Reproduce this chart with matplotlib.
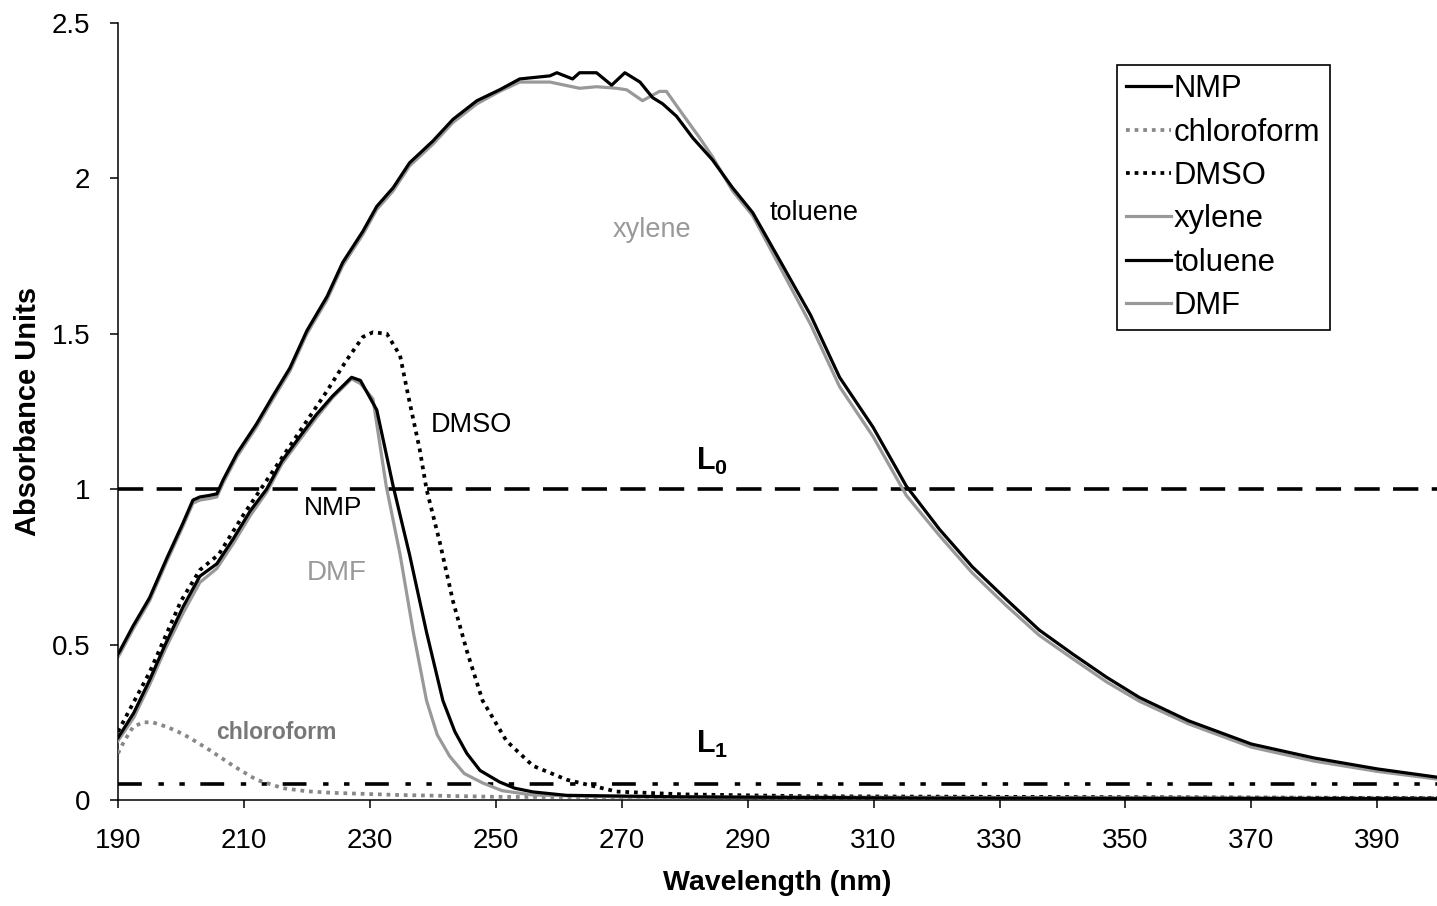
import matplotlib
matplotlib.use("Agg")
import matplotlib.pyplot as plt

plt.rcParams['font.family'] = ['Liberation Sans', 'DejaVu Sans']
plt.rcParams['mathtext.fontset'] = 'custom'
plt.rcParams['mathtext.rm'] = 'Liberation Sans'
plt.rcParams['mathtext.bf'] = 'Liberation Sans:bold'

# toluene / xylene (upper pair)
tol_x = [190, 190.3, 192.4, 195, 197.8, 200.3, 201.9, 203, 204.5, 205.7, 206.7,
         208.9, 212, 214.6, 217.3, 220, 223.2, 225.7, 228.9, 231.1, 233.7,
         236.3, 240, 243.2, 247, 250.6, 253.8, 258.6, 259.7, 262.2, 263.3, 266,
         268.4, 270.5, 272.9, 274.9, 276.5, 278.7, 281.3, 284.4, 287.6, 290.8,
         295, 300, 304.6, 309.9, 315.2, 320.5, 325.7, 331.1, 336.3, 341.6, 347,
         352.2, 360, 370, 380, 390, 400]
tol_y = [0.47, 0.48, 0.56, 0.65, 0.78, 0.89, 0.965, 0.975, 0.98, 0.985, 1.03,
         1.115, 1.21, 1.30, 1.39, 1.51, 1.62, 1.73, 1.83, 1.91, 1.97,
         2.05, 2.12, 2.19, 2.25, 2.285, 2.32, 2.33, 2.34, 2.32, 2.34, 2.34,
         2.30, 2.34, 2.31, 2.26, 2.24, 2.20, 2.13, 2.06, 1.97, 1.89,
         1.74, 1.56, 1.36, 1.20, 1.01, 0.87, 0.75, 0.645, 0.547, 0.47, 0.395,
         0.33, 0.255, 0.18, 0.135, 0.10, 0.072]

xyl_x = [190, 190.3, 192.4, 195, 197.8, 200.3, 201.9, 203, 204.5, 205.7, 206.7,
         208.9, 212, 214.6, 217.3, 220, 223.2, 225.7, 228.9, 231.1, 233.7,
         236.3, 240, 243.2, 247, 250.6, 253.8, 258.6, 263.3, 266, 269.2, 270.8,
         273.3, 276, 277.1, 279.2, 282.4, 284.4, 287.6, 290.8, 295, 300, 304.6,
         309.9, 315.2, 320.5, 325.7, 331.1, 336.3, 341.6, 347, 352.2, 360, 370,
         380, 390, 400]
xyl_y = [0.46, 0.47, 0.55, 0.64, 0.77, 0.88, 0.955, 0.965, 0.97, 0.975, 1.02,
         1.105, 1.20, 1.29, 1.38, 1.50, 1.61, 1.72, 1.82, 1.90, 1.96,
         2.04, 2.11, 2.18, 2.24, 2.28, 2.31, 2.31, 2.29, 2.295, 2.29, 2.285,
         2.25, 2.28, 2.28, 2.22, 2.13, 2.07, 1.96, 1.88, 1.72, 1.53, 1.33,
         1.17, 0.98, 0.85, 0.73, 0.625, 0.53, 0.455, 0.38, 0.318, 0.245, 0.17,
         0.125, 0.092, 0.066]

nmp_x = [190, 192.5, 195, 197.5, 200.3, 203, 205.7, 208.3, 211, 213.6, 216,
         218.9, 221.5, 224.1, 227.1, 228.5, 231.1, 233.7, 236.3, 239, 241.6,
         243.5, 245.4, 247.5, 250.6, 253, 255.9, 261.2, 280, 320, 400]
nmp_y = [0.20, 0.28, 0.385, 0.50, 0.62, 0.72, 0.76, 0.84, 0.93, 1.00, 1.09,
         1.17, 1.24, 1.30, 1.36, 1.35, 1.255, 1.01, 0.79, 0.54, 0.32,
         0.22, 0.15, 0.095, 0.058, 0.038, 0.026, 0.015, 0.01, 0.006, 0.004]

dmf_x = [190, 192.5, 195, 197.5, 200.3, 203, 205.7, 208.3, 211, 213.6, 216,
         218.9, 221.5, 224.1, 227.1, 228.5, 230.5, 232.6, 234.8, 236.9, 239,
         240.7, 242.7, 245, 247.9, 251, 255.9, 270, 400]
dmf_y = [0.19, 0.265, 0.37, 0.485, 0.60, 0.70, 0.745, 0.825, 0.915, 0.99, 1.08,
         1.16, 1.23, 1.295, 1.355, 1.34, 1.29, 1.01, 0.79, 0.54, 0.32,
         0.21, 0.14, 0.085, 0.055, 0.03, 0.016, 0.01, 0.005]

dmso_x = [190, 195, 200, 203, 206, 210, 215, 220, 223, 226.3, 228.9, 230.5,
          232.7, 234.8, 236, 237.9, 239, 241.1, 243.2, 245.4, 247.9, 251.7,
          255.9, 261.3, 269.2, 280, 300, 400]
dmso_y = [0.22, 0.41, 0.64, 0.74, 0.79, 0.92, 1.07, 1.22, 1.31, 1.415, 1.49, 1.505,
          1.50, 1.43, 1.31, 1.13, 1.0, 0.83, 0.64, 0.48, 0.32, 0.19,
          0.11, 0.065, 0.027, 0.018, 0.012, 0.006]

chl_x = [190, 191, 192.4, 194, 195.5, 197.8, 199.5, 201.4, 204.6, 208.3, 212,
         216.2, 220, 224.1, 234.8, 250.6, 300, 400]
chl_y = [0.15, 0.19, 0.235, 0.25, 0.25, 0.235, 0.22, 0.20, 0.16, 0.11, 0.065,
         0.038, 0.028, 0.023, 0.016, 0.01, 0.008, 0.007]

L0 = 1.0
L1 = 0.05

black = '#000000'
gray = '#999999'

fig = plt.figure(figsize=(14.37, 9.06), dpi=100)
ax = fig.add_axes([0.0821, 0.117, 0.918, 0.8576])

ax.plot(nmp_x, nmp_y, color=black, lw=2.3, label='NMP', zorder=4)
ax.plot(chl_x, chl_y, color='#888888', lw=2.7, ls=(0, (1, 1.3)),
        label='chloroform', zorder=3)
ax.plot(dmso_x, dmso_y, color=black, lw=2.7, ls=(0, (1, 1.3)),
        label='DMSO', zorder=3)
ax.plot(xyl_x, xyl_y, color=gray, lw=2.3, label='xylene', zorder=2)
ax.plot(tol_x, tol_y, color=black, lw=2.3, label='toluene', zorder=3)
ax.plot(dmf_x, dmf_y, color=gray, lw=2.3, label='DMF', zorder=3)

ax.axhline(L0, color=black, lw=2.6, ls=(0, (7, 3.7)), zorder=1)
ax.axhline(L1, color=black, lw=2.6, ls=(0, (6.6, 4.6, 1.5, 4.3, 1.5, 4.3)),
           zorder=1)

ax.set_xlim(190, 399.5)
ax.set_ylim(0, 2.5)
ax.set_xticks(range(190, 400, 20))
ax.set_yticks([0, 0.5, 1, 1.5, 2, 2.5])
ax.set_yticklabels(['0', '0.5', '1', '1.5', '2', '2.5'])
ax.spines['top'].set_visible(False)
ax.spines['right'].set_visible(False)
for s in ['left', 'bottom']:
    ax.spines[s].set_linewidth(1.1)
ax.tick_params(direction='out', length=6, width=1.1, labelsize=20)
ax.tick_params(axis='x', pad=14)
ax.tick_params(axis='y', pad=14)

ax.set_xlabel('Wavelength (nm)', fontsize=20.5, fontweight='bold', labelpad=12)
ax.set_ylabel('Absorbance Units', fontsize=21, fontweight='bold', labelpad=7)

ax.text(274.8, 1.834, 'xylene', color=gray, fontsize=19.5, ha='center', va='center')
ax.text(300.5, 1.89, 'toluene', color=black, fontsize=19.5, ha='center', va='center')
ax.text(246.2, 1.207, 'DMSO', color=black, fontsize=19.5, ha='center', va='center')
ax.text(224.1, 0.94, 'NMP', color=black, fontsize=19, ha='center', va='center')
ax.text(224.8, 0.73, 'DMF', color=gray, fontsize=20, ha='center', va='center')
ax.text(215.2, 0.216, 'chloroform', color='#777777', fontsize=16.5,
        fontweight='bold', ha='center', va='center')
ax.text(284.3, 1.09, r'$\mathbf{L_0}$', fontsize=22, ha='center', va='center')
ax.text(284.3, 0.18, r'$\mathbf{L_1}$', fontsize=22, ha='center', va='center')

leg = ax.legend(loc='upper left', bbox_to_anchor=(0.757, 0.946), fontsize=22.3,
                frameon=True, fancybox=False, framealpha=1, edgecolor=black,
                handlelength=1.45, handletextpad=0.1, labelspacing=0.43,
                borderpad=0.3, borderaxespad=0)
leg.get_frame().set_linewidth(1.2)

fig.savefig('out.png', dpi=100)
